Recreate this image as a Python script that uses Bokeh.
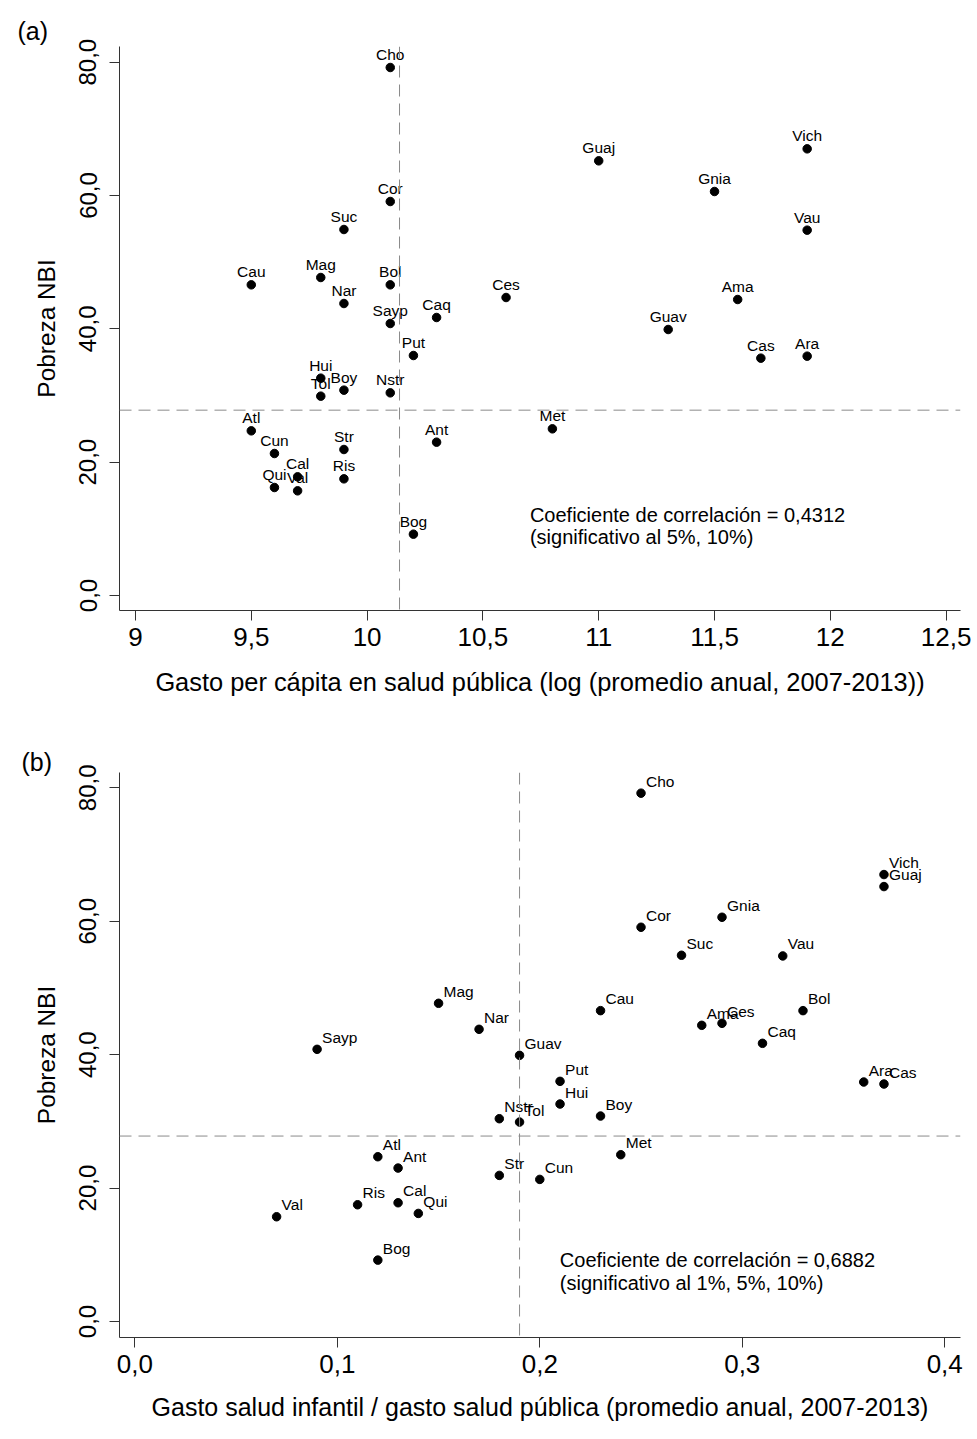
from bokeh.plotting import figure
from bokeh.models import ColumnDataSource, Span, Label, FixedTicker, Range1d
from bokeh.layouts import column
from bokeh.embed import file_html
from bokeh.resources import INLINE
from bokeh.core.properties import value

# ---------------- data ----------------
departamentos = ["Cho", "Cor", "Suc", "Cau", "Mag", "Bol", "Nar", "Sayp", "Caq", "Put",
                 "Hui", "Tol", "Boy", "Nstr", "Atl", "Cun", "Str", "Ant", "Cal", "Ris",
                 "Qui", "Val", "Bog", "Guaj", "Vich", "Gnia", "Vau", "Ces", "Ama", "Guav",
                 "Cas", "Ara", "Met"]
pobreza_nbi = [79.2, 59.1, 54.9, 46.6, 47.7, 46.6, 43.8, 40.8, 41.7, 36.0,
               32.6, 29.9, 30.8, 30.4, 24.7, 21.3, 21.9, 23.0, 17.8, 17.5,
               16.2, 15.7, 9.2, 65.2, 67.0, 60.6, 54.8, 44.7, 44.4, 39.9,
               35.6, 35.9, 25.0]
gasto_percapita_log = [10.1, 10.1, 9.9, 9.5, 9.8, 10.1, 9.9, 10.1, 10.3, 10.2,
                       9.8, 9.8, 9.9, 10.1, 9.5, 9.6, 9.9, 10.3, 9.7, 9.9,
                       9.6, 9.7, 10.2, 11.0, 11.9, 11.5, 11.9, 10.6, 11.6, 11.3,
                       11.7, 11.9, 10.8]
gasto_infantil_ratio = [0.25, 0.25, 0.27, 0.23, 0.15, 0.33, 0.17, 0.09, 0.31, 0.21,
                        0.21, 0.19, 0.23, 0.18, 0.12, 0.20, 0.18, 0.13, 0.13, 0.11,
                        0.14, 0.07, 0.12, 0.37, 0.37, 0.29, 0.32, 0.29, 0.28, 0.19,
                        0.37, 0.36, 0.24]

nbi_nacional = 27.8
gasto_log_nacional = 10.14
gasto_infantil_nacional = 0.19

y_ticks = [0, 20, 40, 60, 80]
y_tick_labels = ["0,0", "20,0", "40,0", "60,0", "80,0"]
xa_ticks = [9, 9.5, 10, 10.5, 11, 11.5, 12, 12.5]
xa_tick_labels = ["9", "9,5", "10", "10,5", "11", "11,5", "12", "12,5"]
xb_ticks = [0.0, 0.1, 0.2, 0.3, 0.4]
xb_tick_labels = ["0,0", "0,1", "0,2", "0,3", "0,4"]

y_label = "Pobreza NBI"
xa_label = "Gasto per cápita en salud pública (log (promedio anual, 2007-2013))"
xb_label = "Gasto salud infantil / gasto salud pública (promedio anual, 2007-2013)"
corr_a = ["Coeficiente de correlación = 0,4312", "(significativo al 5%, 10%)"]
corr_b = ["Coeficiente de correlación = 0,6882", "(significativo al 1%, 5%, 10%)"]
panel_labels = ["(a)", "(b)"]

FONT = "Liberation Sans"
AXC = "#333333"


def make_panel(xvals, xrange, yrange, xticks, xticklabels, xlabel, vline,
               W, H, ml, mr, mt, mb, align, xo, yo, panel_label, t_offset, t_standoff,
               corr, corr_x, corr_y, xlab_size, xlab_standoff):
    p = figure(width=W, height=H, output_backend="svg", toolbar_location=None,
               x_range=Range1d(*xrange), y_range=Range1d(*yrange),
               min_border_left=ml, min_border_right=mr,
               min_border_top=mt, min_border_bottom=mb)
    p.outline_line_color = None
    p.grid.visible = False
    p.background_fill_color = "white"
    p.border_fill_color = "white"

    p.title.text = panel_label
    p.title.align = "left"
    p.title.offset = t_offset
    try:
        p.title.standoff = t_standoff
    except Exception:
        p.title.standoff = 0
    p.title.text_font = FONT
    p.title.text_font_size = "25px"
    p.title.text_font_style = "normal"
    p.title.text_color = "black"

    for ax in (p.xaxis[0], p.yaxis[0]):
        ax.axis_line_color = AXC
        ax.major_tick_line_color = AXC
        ax.major_tick_out = 10
        ax.major_tick_in = 0
        ax.minor_tick_line_color = None
        ax.major_label_text_font = FONT
        ax.major_label_text_color = "black"
        ax.axis_label_text_font = FONT
        ax.axis_label_text_font_style = "normal"
        ax.axis_label_text_color = "black"

    p.xaxis.ticker = FixedTicker(ticks=xticks)
    p.xaxis.major_label_overrides = dict(zip(xticks, xticklabels))
    p.xaxis.major_label_text_font_size = "26px"
    p.xaxis.major_label_standoff = 7
    p.xaxis.axis_label = xlabel
    p.xaxis.axis_label_text_font_size = xlab_size
    p.xaxis.axis_label_standoff = xlab_standoff

    p.yaxis.ticker = FixedTicker(ticks=y_ticks)
    p.yaxis.major_label_overrides = dict(zip(y_ticks, y_tick_labels))
    p.yaxis.major_label_orientation = "vertical"
    p.yaxis.major_label_text_font_size = "24px"
    p.yaxis.major_label_standoff = 13
    p.yaxis.axis_label = y_label
    p.yaxis.axis_label_text_font_size = "24.4px"
    p.yaxis.axis_label_standoff = 17

    dash = "12 7"
    p.add_layout(Span(location=vline, dimension="height", line_color="#8a8a8a",
                      line_width=1, line_dash=dash))
    p.add_layout(Span(location=nbi_nacional, dimension="width", line_color="#8a8a8a",
                      line_width=1, line_dash=dash))

    src = ColumnDataSource(dict(x=xvals, y=pobreza_nbi, name=departamentos))
    p.scatter("x", "y", source=src, size=8.5, fill_color="black", line_color="black")
    p.text("x", "y", text="name", source=src, text_font=value(FONT),
           text_font_size="15.5px", text_color="black", text_align=align,
           text_baseline="middle", x_offset=xo, y_offset=yo)

    for txt, yy in zip(corr, corr_y):
        p.add_layout(Label(x=corr_x, y=yy, text=txt, text_font=FONT,
                           text_font_size="20px", text_color="black",
                           text_baseline="middle"))
    return p


pa = make_panel(gasto_percapita_log, (8.931, 12.562), (-2.25, 82.35),
                xa_ticks, xa_tick_labels, xa_label, gasto_log_nacional,
                977, 737, 116, 14, 46, 127, "center", 0, -13,
                panel_labels[0], -102, 3, corr_a, 10.703, (12.12, 8.73), "25.4px", 19)

pb = make_panel(gasto_infantil_ratio, (-0.0076, 0.4078), (-2.4, 82.3),
                xb_ticks, xb_tick_labels, xb_label, gasto_infantil_nacional,
                977, 700, 119, 17, 35, 100, "left", 5, -12,
                panel_labels[1], -98, -6, corr_b, 0.2099, (9.23, 5.73), "25px", 17)

layout = column(pa, pb, spacing=0)
open("out.html", "w").write(file_html(layout, INLINE))
